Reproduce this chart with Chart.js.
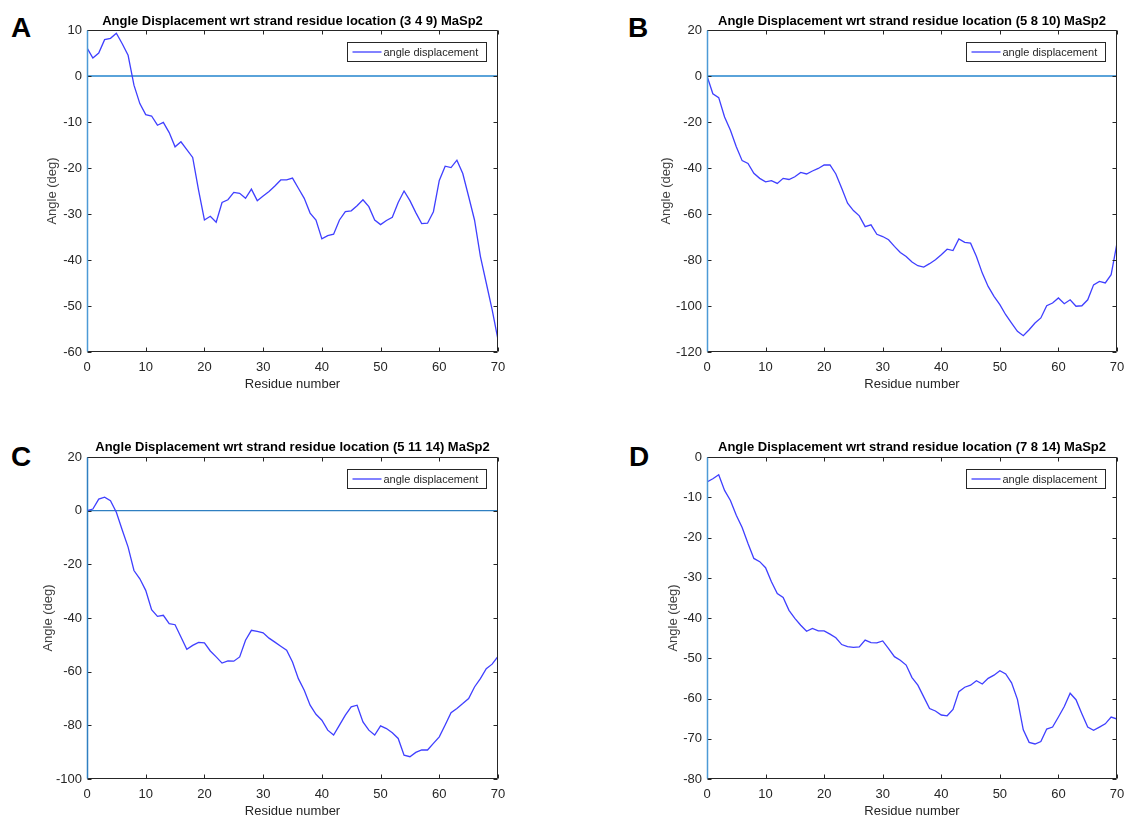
<!DOCTYPE html>
<html>
<head>
<meta charset="utf-8">
<title>Angle Displacement MaSp2</title>
<script src="https://cdn.jsdelivr.net/npm/chart.js@4.4.1/dist/chart.umd.min.js"></script>
<style>
  body { margin: 0; background: #fff; }
  #page { position: relative; width: 1124px; height: 818px; overflow: hidden; }
  canvas { position: absolute; }
  .tag { position: absolute; font: bold 28px "Liberation Sans", Arial, sans-serif; line-height: 28px; color: #000; }
</style>
</head>
<body>
<div id="page">
  <div class="tag" style="left:11px;top:14px">A</div>
  <div class="tag" style="left:628px;top:14px">B</div>
  <div class="tag" style="left:11px;top:443px">C</div>
  <div class="tag" style="left:629px;top:443px">D</div>
  <canvas id="chartA" width="562" height="400" style="left:0;top:0"></canvas>
  <canvas id="chartB" width="562" height="400" style="left:562px;top:0"></canvas>
  <canvas id="chartC" width="562" height="418" style="left:0;top:400px"></canvas>
  <canvas id="chartD" width="562" height="418" style="left:562px;top:400px"></canvas>
</div>
<script>
// ---- data ----
const residues = [
  0, 1, 2, 3, 4, 5, 6, 7, 8, 9, 10, 11, 12, 13, 14, 15, 16, 17, 18, 19, 20,
  21, 22, 23, 24, 25, 26, 27, 28, 29, 30, 31, 32, 33, 34, 35, 36, 37, 38, 39, 40,
  41, 42, 43, 44, 45, 46, 47, 48, 49, 50, 51, 52, 53, 54, 55, 56, 57, 58, 59, 60,
  61, 62, 63, 64, 65, 66, 67, 68, 69, 70
];

const angleA = [
  6.1, 3.9, 5.0, 7.9, 8.2, 9.3, 7.0, 4.5, -2.0, -6.0, -8.4,
  -8.7, -10.7, -10.1, -12.3, -15.4, -14.3, -16.0, -17.7, -24.8, -31.3,
  -30.5, -31.8, -27.5, -26.9, -25.3, -25.5, -26.6, -24.6, -27.1, -26.1,
  -25.1, -23.9, -22.6, -22.6, -22.2, -24.4, -26.6, -29.8, -31.3, -35.4,
  -34.7, -34.4, -31.3, -29.5, -29.3, -28.2, -26.9, -28.4, -31.3, -32.3,
  -31.4, -30.7, -27.5, -25.0, -27.1, -29.7, -32.1, -32.0, -29.5, -22.7,
  -19.6, -19.9, -18.3, -21.2, -26.2, -31.3, -39.2, -45.0, -50.8, -57.3
];

const angleB = [
  0, -7.7, -9.4, -17.8, -23.6, -30.8, -36.8, -38.0, -42.3, -44.5, -46.0,
  -45.5, -46.7, -44.5, -45.0, -43.8, -41.9, -42.6, -41.3, -40.2, -38.7,
  -38.7, -42.6, -48.8, -55.3, -58.5, -60.8, -65.5, -64.7, -68.8, -69.8,
  -71.2, -74.1, -76.7, -78.5, -80.9, -82.5, -83.1, -81.6, -79.9, -77.7,
  -75.3, -75.9, -70.8, -72.3, -72.7, -78.5, -85.7, -91.5, -95.8, -99.4,
  -103.8, -107.4, -111.0, -112.9, -110.3, -107.4, -105.2, -99.9, -98.7, -96.5,
  -99.0, -97.3, -100.1, -99.9, -97.3, -90.8, -89.3, -90.0, -86.4, -72.7
];

const angleC = [
  0, 0.6, 4.3, 5.0, 3.7, -0.6, -7.2, -13.6, -22.3, -25.4, -29.7,
  -36.9, -39.4, -39.0, -42.1, -42.5, -47.1, -51.7, -50.2, -49.1, -49.3,
  -52.3, -54.5, -56.8, -56.0, -56.1, -54.5, -48.3, -44.6, -45.0, -45.5,
  -47.5, -49.0, -50.5, -52.0, -56.4, -62.6, -66.9, -72.5, -75.9, -78.1,
  -81.8, -83.6, -79.9, -76.2, -73.1, -72.5, -78.7, -81.8, -83.6, -80.2,
  -81.2, -82.8, -84.9, -91.1, -91.7, -90.1, -89.2, -89.2, -86.7, -84.3,
  -79.9, -75.3, -73.7, -71.9, -70.0, -65.7, -62.6, -58.9, -57.2, -54.3
];

const angleD = [
  -6.2, -5.4, -4.4, -8.3, -10.8, -14.5, -17.5, -21.5, -25.2, -26.0, -27.5,
  -31.0, -33.9, -34.9, -38.1, -40.1, -41.8, -43.3, -42.6, -43.2, -43.2,
  -44.0, -44.9, -46.6, -47.1, -47.3, -47.2, -45.5, -46.1, -46.2, -45.7,
  -47.6, -49.6, -50.5, -51.7, -54.8, -56.7, -59.6, -62.5, -63.1, -64.1,
  -64.3, -62.7, -58.3, -57.2, -56.7, -55.6, -56.4, -55.0, -54.2, -53.1,
  -53.9, -56.1, -60.2, -67.8, -70.9, -71.3, -70.7, -67.6, -67.1, -64.6,
  -62.0, -58.7, -60.3, -63.8, -67.1, -67.9, -67.1, -66.3, -64.6, -65.1
];

// reference line y = 0 across the residue range
const zeroLineX = [0, 70];
const zeroLineY = [0, 0];

const xTicks = [0, 10, 20, 30, 40, 50, 60, 70];
const yTicksA = [-60, -50, -40, -30, -20, -10, 0, 10];
const yTicksB = [-120, -100, -80, -60, -40, -20, 0, 20];
const yTicksC = [-100, -80, -60, -40, -20, 0, 20];
const yTicksD = [-80, -70, -60, -50, -40, -30, -20, -10, 0];

const seriesLabel = "angle displacement";
const xTitle = "Residue number";
const yTitle = "Angle (deg)";

// ---- styling ----
const FONT = '"Liberation Sans", Arial, sans-serif';
const LINE = "#3f3fff";
const FRAME = "#262626";
const TEXT = "#262626";

// MATLAB-like box: inward ticks on all four sides, blue left edge, legend box
const matlabFrame = {
  id: "matlabFrame",
  afterDatasetsDraw(chart, args, opts) {
    const { ctx, chartArea: a, scales: { x, y } } = chart;
    const L = Math.round(a.left) + 0.5, R = Math.round(a.right) - 0.5;
    const T = Math.round(a.top) + 0.5, B = Math.round(a.bottom) - 0.5;
    ctx.save();
    ctx.strokeStyle = FRAME;
    ctx.lineWidth = 1;
    ctx.beginPath();
    ctx.moveTo(L, T); ctx.lineTo(R, T); ctx.lineTo(R, B); ctx.lineTo(L, B);
    x.ticks.forEach(t => {
      const px = Math.round(x.getPixelForValue(t.value)) + 0.5;
      ctx.moveTo(px, B); ctx.lineTo(px, B - 4);
      ctx.moveTo(px, T); ctx.lineTo(px, T + 4);
    });
    y.ticks.forEach(t => {
      const py = Math.round(y.getPixelForValue(t.value)) + 0.5;
      ctx.moveTo(L, py); ctx.lineTo(L + 4, py);
      ctx.moveTo(R, py); ctx.lineTo(R - 4, py);
    });
    ctx.stroke();

    ctx.strokeStyle = opts.edgeColor;
    ctx.lineWidth = 1.5;
    ctx.beginPath();
    ctx.moveTo(L, T); ctx.lineTo(L, B);
    ctx.stroke();

    // legend
    const w = 139, h = 19;
    const lx = Math.round(a.right) - 12 - w + 0.5;
    const ly = Math.round(a.top) + 12 + 0.5;
    ctx.fillStyle = "#fff";
    ctx.fillRect(lx, ly, w, h);
    ctx.strokeStyle = FRAME;
    ctx.lineWidth = 1;
    ctx.strokeRect(lx, ly, w, h);
    ctx.strokeStyle = LINE;
    ctx.lineWidth = 1.3;
    ctx.beginPath();
    ctx.moveTo(lx + 5, ly + h / 2);
    ctx.lineTo(lx + 34, ly + h / 2);
    ctx.stroke();
    ctx.fillStyle = TEXT;
    ctx.font = "11px " + FONT;
    ctx.textBaseline = "middle";
    ctx.fillText(seriesLabel, lx + 36, ly + h / 2 + 0.5);
    ctx.restore();
  }
};

const panels = [
  { id: "chartA", values: angleA, yTicks: yTicksA,
    title: "Angle Displacement wrt strand residue location (3 4 9) MaSp2",
    yAxisW: 87, padRight: 64, xAxisH: 48, titleTop: 13.2, titleBottom: 1.2,
    xTitlePad: 9.5, yTitlePad: 44.9, zeroColor: "#5aa3da", zeroWidth: 2, edgeColor: "#4d9ad6" },
  { id: "chartB", values: angleB, yTicks: yTicksB,
    title: "Angle Displacement wrt strand residue location (5 8 10) MaSp2",
    yAxisW: 145, padRight: 7, xAxisH: 48, titleTop: 13.2, titleBottom: 1.2,
    xTitlePad: 9.5, yTitlePad: 96.9, zeroColor: "#5aa3da", zeroWidth: 2, edgeColor: "#4d9ad6" },
  { id: "chartC", values: angleC, yTicks: yTicksC,
    title: "Angle Displacement wrt strand residue location (5 11 14) MaSp2",
    yAxisW: 87, padRight: 64, xAxisH: 39, titleTop: 39.7, titleBottom: 1.7,
    xTitlePad: 0.5, yTitlePad: 40.5, zeroColor: "#2f7fc1", zeroWidth: 1.2, edgeColor: "#2f7fc1" },
  { id: "chartD", values: angleD, yTicks: yTicksD,
    title: "Angle Displacement wrt strand residue location (7 8 14) MaSp2",
    yAxisW: 145, padRight: 7, xAxisH: 39, titleTop: 39.7, titleBottom: 1.7,
    xTitlePad: 0.5, yTitlePad: 103.5, zeroColor: "#5aa3da", zeroWidth: 2, edgeColor: "#4d9ad6" }
];

function buildChart(p) {
  const canvas = document.getElementById(p.id);
  return new Chart(canvas, {
    type: "line",
    data: {
      datasets: [
        {
          label: seriesLabel,
          data: residues.map((r, i) => ({ x: r, y: p.values[i] })),
          borderColor: LINE,
          borderWidth: 1.3,
          pointRadius: 0,
          tension: 0,
          order: 1
        },
        {
          label: "zero",
          data: zeroLineX.map((v, i) => ({ x: v, y: zeroLineY[i] })),
          borderColor: p.zeroColor,
          borderWidth: p.zeroWidth,
          pointRadius: 0,
          order: 2
        }
      ]
    },
    options: {
      responsive: false,
      animation: false,
      events: [],
      layout: { padding: { left: 0, top: 0, right: p.padRight, bottom: 0 } },
      plugins: {
        legend: { display: false },
        tooltip: { enabled: false },
        title: {
          display: true,
          text: p.title,
          fullSize: false,
          color: "#000",
          font: { family: FONT, size: 13, weight: "bold", lineHeight: 1.2 },
          padding: { top: p.titleTop, bottom: p.titleBottom }
        },
        matlabFrame: { edgeColor: p.edgeColor }
      },
      scales: {
        x: {
          type: "linear",
          position: "bottom",
          min: xTicks[0],
          max: xTicks[xTicks.length - 1],
          afterBuildTicks: s => { s.ticks = xTicks.map(v => ({ value: v })); },
          afterFit: s => {
            s.height = p.xAxisH;
            s.paddingLeft = 0;
            s.paddingRight = 0;
          },
          grid: { display: false, drawTicks: false },
          border: { display: false },
          ticks: { color: TEXT, font: { family: FONT, size: 13 }, padding: 8, maxRotation: 0, autoSkip: false },
          title: {
            display: true, text: xTitle, color: TEXT,
            font: { family: FONT, size: 13, lineHeight: 1 },
            padding: { top: 0, bottom: p.xTitlePad }
          }
        },
        y: {
          type: "linear",
          position: "left",
          min: p.yTicks[0],
          max: p.yTicks[p.yTicks.length - 1],
          afterBuildTicks: s => { s.ticks = p.yTicks.map(v => ({ value: v })); },
          afterFit: s => {
            s.width = p.yAxisW;
            s.paddingTop = 0;
            s.paddingBottom = 0;
          },
          grid: { display: false, drawTicks: false },
          border: { display: false },
          ticks: { color: TEXT, font: { family: FONT, size: 13 }, padding: 5, autoSkip: false },
          title: {
            display: true, text: yTitle, color: "#404040",
            font: { family: FONT, size: 13, lineHeight: 1.2 },
            padding: { top: p.yTitlePad, bottom: 0 }
          }
        }
      }
    },
    plugins: [matlabFrame]
  });
}

panels.forEach(buildChart);
</script>
</body>
</html>
